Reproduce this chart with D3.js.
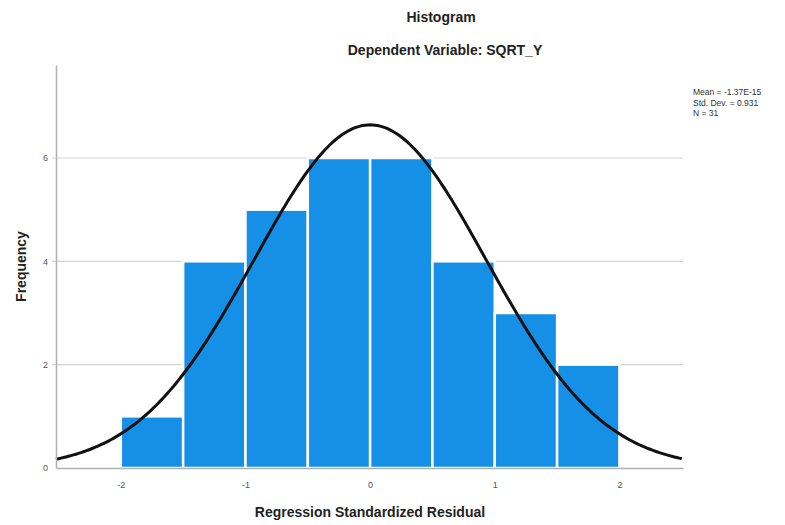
<!DOCTYPE html>
<html>
<head>
<meta charset="utf-8">
<script src="https://cdn.jsdelivr.net/npm/d3@7"></script>
<style>
    body { margin: 0; background: #fff; }
    text { font-family: Arial, "Liberation Sans", sans-serif; }
</style>
</head>
<body>
<svg id="chart" width="785" height="525"></svg>
<script>
// bins of width 0.5, counts
const binStarts = [-2, -1.5, -1, -0.5, 0, 0.5, 1, 1.5];
const counts = [1, 4, 5, 6, 6, 4, 3, 2];
const binWidth = 0.5;
const yTicks = [0, 2, 4, 6];
const xTicks = [-2, -1, 0, 1, 2];
const stats = ["Mean = -1.37E-15", "Std. Dev. = 0.931", "N = 31"];
const mean = 0, sd = 0.931, n = 31;

const margin = { top: 65, right: 102, bottom: 57, left: 56 };
const width = 785 - margin.left - margin.right,
    height = 525 - margin.top - margin.bottom;

const svg = d3.select('#chart');
const g = svg.append('g')
    .attr('transform', 'translate(' + margin.left + ',' + margin.top + ')');

const x = d3.scaleLinear().domain([-2.52, 2.51]).range([0, width]);
const y = d3.scaleLinear().domain([0, 7.8]).range([height, 0]);

// gridlines
g.selectAll('.grid')
    .data(yTicks.filter(d => d > 0))
    .enter()
    .append('line')
    .attr('x1', -4)
    .attr('x2', width)
    .attr('y1', d => y(d))
    .attr('y2', d => y(d))
    .style('stroke', '#d4d4d4')
    .style('stroke-width', 1.2);

// bars
g.selectAll('.bars')
    .data(counts)
    .enter()
    .append('rect')
    .attr('class', 'bars')
    .attr('x', (d, i) => x(binStarts[i]))
    .attr('y', d => y(d))
    .attr('width', (d, i) => x(binStarts[i] + binWidth) - x(binStarts[i]))
    .attr('height', d => height - y(d))
    .style('fill', '#1590e6')
    .style('stroke', '#fff')
    .style('stroke-width', 2.5);

// normal curve
const pdf = v => n * binWidth / (sd * Math.sqrt(2 * Math.PI)) * Math.exp(-0.5 * Math.pow((v - mean) / sd, 2));
const curveX = d3.range(x.domain()[0], x.domain()[1] + 0.001, 0.02);
g.append('path')
    .datum(curveX)
    .attr('d', d3.line().x(d => x(d)).y(d => y(pdf(d))))
    .style('fill', 'none')
    .style('stroke', '#111')
    .style('stroke-width', 3);

// axes
const xAxis = g.append('g')
    .attr('transform', 'translate(0,' + height + ')')
    .call(d3.axisBottom(x).tickValues(xTicks).tickSize(0).tickPadding(14).tickFormat(d => String(d)));
const yAxis = g.append('g')
    .call(d3.axisLeft(y).tickValues(yTicks).tickSize(0).tickPadding(8).tickFormat(d => String(d)));

[xAxis, yAxis].forEach(a => {
    a.select('.domain').style('stroke', '#b0b0b0').style('stroke-width', 1.5);
    a.selectAll('text').style('font-size', '9px').style('fill', '#555');
});

// titles
svg.append('text')
    .attr('x', 441).attr('y', 22)
    .attr('text-anchor', 'middle')
    .style('font-size', '14px').style('font-weight', 'bold').style('fill', '#222')
    .text('Histogram');
svg.append('text')
    .attr('x', 445).attr('y', 55)
    .attr('text-anchor', 'middle')
    .style('font-size', '14px').style('font-weight', 'bold').style('fill', '#222')
    .text('Dependent Variable: SQRT_Y');

svg.append('text')
    .attr('transform', 'translate(26,' + (margin.top + height / 2) + ') rotate(-90)')
    .attr('text-anchor', 'middle')
    .style('font-size', '14px').style('font-weight', 'bold').style('fill', '#222')
    .text('Frequency');
svg.append('text')
    .attr('x', 370).attr('y', 517)
    .attr('text-anchor', 'middle')
    .style('font-size', '14px').style('font-weight', 'bold').style('fill', '#222')
    .text('Regression Standardized Residual');

// stats box text
svg.selectAll('.stats')
    .data(stats)
    .enter()
    .append('text')
    .attr('x', 693)
    .attr('y', (d, i) => 95 + i * 10.5)
    .style('font-size', '8.5px')
    .style('fill', '#333')
    .text(d => d);
</script>
</body>
</html>
